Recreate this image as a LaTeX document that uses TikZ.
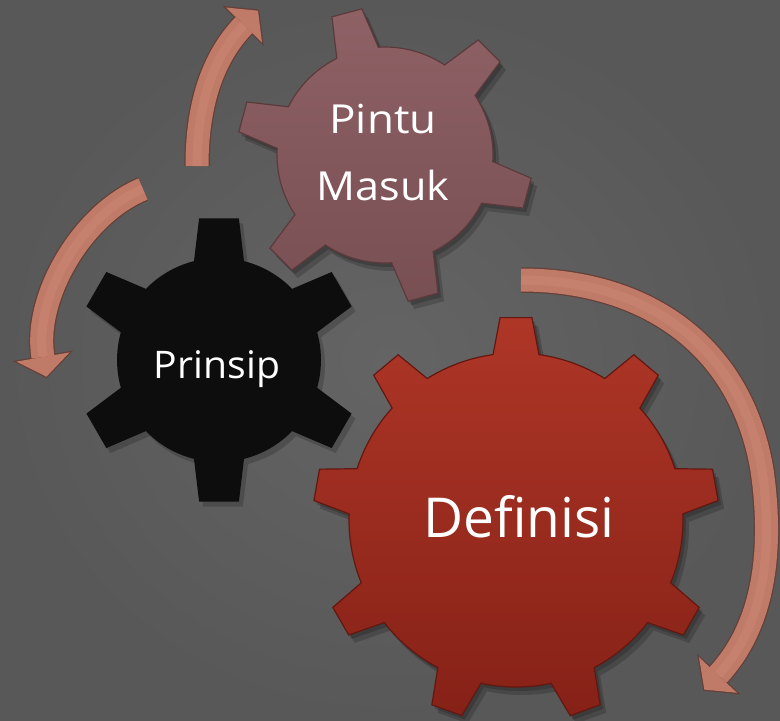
\documentclass[tikz,border=0pt]{standalone}
\usepackage{fontspec}
\setmainfont{Open Sans}
\usetikzlibrary{calc}
\definecolor{bg}{RGB}{88,88,88}
\definecolor{bgin}{RGB}{100,100,100}
\definecolor{pinktop}{RGB}{142,97,101}
\definecolor{pinkbot}{RGB}{120,79,83}
\definecolor{pinkedge}{RGB}{92,58,60}
\definecolor{redtop}{RGB}{174,54,39}
\definecolor{redbot}{RGB}{134,33,23}
\definecolor{rededge}{RGB}{98,24,16}
\definecolor{arrowfill}{RGB}{192,122,104}
\definecolor{arrowhi}{RGB}{210,144,124}
\definecolor{arrowedge}{RGB}{100,64,56}
% gear outline: #1 body radius, #2 tip radius, #3 teeth, #4 first tooth angle, #5 base half angle, #6 tip half angle
\newcommand{\gearpath}[6]{%
  ({#4-#5}:#1)
  \foreach \i in {1,...,#3} {
    -- ({#4+(\i-1)*360/#3-#6}:#2) -- ({#4+(\i-1)*360/#3+#6}:#2) -- ({#4+(\i-1)*360/#3+#5}:#1)
    \foreach \j in {1,...,11} { -- ({#4+(\i-1)*360/#3+#5+\j*(360/#3-2*#5)/12}:#1) }
    -- ({#4+\i*360/#3-#5}:#1)
  } -- cycle}
\tikzset{
  txt/.style={text=white, inner sep=0pt},
  bandedge/.style={draw=arrowedge, line width=25.5pt},
  bandfill/.style={draw=arrowfill, line width=23pt},
  bandhi/.style={draw=arrowhi, line width=9pt, opacity=.35},
  headedge/.style={draw=arrowedge, fill=arrowedge, line width=2.5pt, line join=miter},
  headfill/.style={fill=arrowfill},
  gshadow/.style={fill=black, opacity=.18},
}
\begin{document}
\begin{tikzpicture}[x=1pt,y=-1pt]
\useasboundingbox (0,0) rectangle (780,721);
\clip (0,0) rectangle (780,721);
\shade[inner color=bgin, outer color=bg] (0,0) rectangle (780,721);

% ---------- arrow 1 (top left, around Pintu Masuk)
\coordinate (a1s) at (197,166);
\coordinate (a1e) at (244,25);
\coordinate (a1l) at (226,7.5);
\coordinate (a1r) at (262,42.5);
\coordinate (a1t) at (258,10.7);
\draw[bandedge] (a1s) .. controls (197,100) and (215,55) .. (a1e);
\draw[headedge] (a1l) -- (a1t) -- (a1r) -- cycle;
\draw[bandfill] (a1s) .. controls (197,100) and (215,55) .. (a1e);
\fill[headfill] (a1l) -- (a1t) -- (a1r) -- cycle;
\draw[bandhi] (a1s) .. controls (197,100) and (215,55) .. (a1e);

% ---------- arrow 2 (left, around Prinsip)
\coordinate (a2s) at (143,189);
\coordinate (a2e) at (43,357);
\coordinate (a2l) at (16.4,361.6);
\coordinate (a2r) at (69.6,352.4);
\coordinate (a2t) at (46.4,376.7);
\draw[bandedge] (a2s) .. controls (80,215) and (33,300) .. (a2e);
\draw[headedge] (a2l) -- (a2t) -- (a2r) -- cycle;
\draw[bandfill] (a2s) .. controls (80,215) and (33,300) .. (a2e);
\fill[headfill] (a2l) -- (a2t) -- (a2r) -- cycle;
\draw[bandhi] (a2s) .. controls (80,215) and (33,300) .. (a2e);

% ---------- arrow 3 (right, around Definisi)
\coordinate (a3s) at (521,280);
\coordinate (a3m) at (762,470);
\coordinate (a3e) at (718,675);
\coordinate (a3l) at (699,657.2);
\coordinate (a3r) at (737,692.8);
\coordinate (a3t) at (704.3,689.6);
\draw[bandedge] (a3s) .. controls (640,280) and (740,340) .. (a3m) .. controls (775,560) and (760,630) .. (a3e);
\draw[headedge] (a3l) -- (a3t) -- (a3r) -- cycle;
\draw[bandfill] (a3s) .. controls (640,280) and (740,340) .. (a3m) .. controls (775,560) and (760,630) .. (a3e);
\fill[headfill] (a3l) -- (a3t) -- (a3r) -- cycle;
\draw[bandhi] (a3s) .. controls (640,280) and (740,340) .. (a3m) .. controls (775,560) and (760,630) .. (a3e);

% ---------- gear Pintu Masuk
\begin{scope}[shift={(385,155)}]
  \fill[gshadow, shift={(3,4)}] \gearpath{108}{148}{6}{-105}{11.5}{6.0};
  \fill[gshadow, shift={(6,8)}] \gearpath{108}{148}{6}{-105}{11.5}{6.0};
  \shadedraw[top color=pinktop, bottom color=pinkbot, draw=pinkedge, line width=1.2pt, line join=miter] \gearpath{108}{148}{6}{-105}{11.5}{6.0};
\end{scope}

% ---------- gear Prinsip
\begin{scope}[shift={(219,360)}]
  \fill[gshadow, shift={(4,5)}] \gearpath{102}{143}{6}{-90}{14.2}{8.0};
  \fill[black!95] \gearpath{102}{143}{6}{-90}{14.2}{8.0};
\end{scope}

% ---------- gear Definisi
\begin{scope}[shift={(516,520)}]
  \fill[gshadow, shift={(3,4)}] \gearpath{167}{203}{9}{-90}{7.9}{4.5};
  \fill[gshadow, shift={(6,8)}] \gearpath{167}{203}{9}{-90}{7.9}{4.5};
  \shadedraw[top color=redtop, bottom color=redbot, draw=rededge, line width=1.2pt, line join=miter] \gearpath{167}{203}{9}{-90}{7.9}{4.5};
\end{scope}

% ---------- texts
\node[txt, anchor=base, font=\fontsize{40}{48}\selectfont] (pintu) at (383,133) {\scalebox{1.1}[1]{Pintu}};
\node[txt, anchor=base, font=\fontsize{40}{48}\selectfont] (masuk) at (383,200) {\scalebox{1.08}[1]{Masuk}};
\node[txt, anchor=base, font=\fontsize{38}{46}\selectfont] (prinsip) at (217,378) {\scalebox{1.03}[1]{Prinsip}};
\node[txt, anchor=base, font=\fontsize{55}{66}\selectfont] (definisi) at (519,537) {Definisi};
\end{tikzpicture}
\end{document}
